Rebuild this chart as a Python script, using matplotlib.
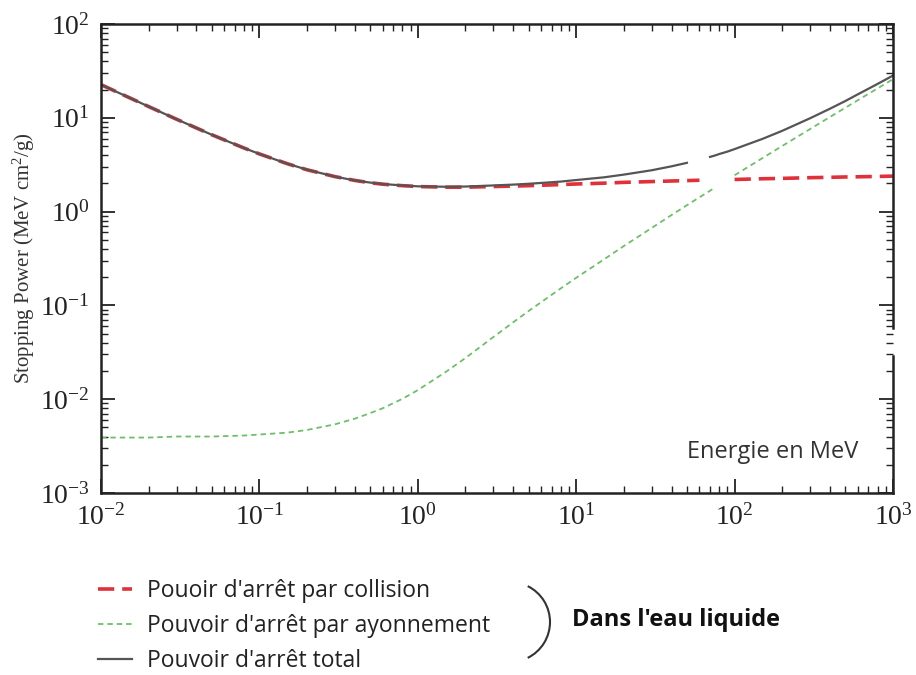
import matplotlib
matplotlib.use('Agg')
import matplotlib.pyplot as plt
from matplotlib.patches import Arc
import numpy as np

plt.rcParams['font.family'] = 'Liberation Serif'
plt.rcParams['mathtext.fontset'] = 'custom'
plt.rcParams['mathtext.rm'] = 'Liberation Serif'
plt.rcParams['mathtext.it'] = 'Liberation Serif:italic'
plt.rcParams['axes.unicode_minus'] = False

# electron stopping power in liquid water, MeV cm2/g
# nan = points erased in the original picture
energy = [0.01, 0.02, 0.03, 0.05, 0.08, 0.1, 0.15, 0.2, 0.3, 0.4, 0.5, 0.6, 0.8,
          1.0, 1.5, 2, 3, 4, 5, 6, 8, 10, 15, 20, 30, 40, 50, 60, 70, 75, 80,
          90, 100, 150, 200, 300, 400, 500, 600, 800, 1000]
collision = [22.56, 13.17, 9.65, 6.60, 4.76, 4.12, 3.24, 2.79, 2.36, 2.15, 2.03, 1.96, 1.89,
             1.85, 1.82, 1.82, 1.85, 1.87, 1.89, 1.91, 1.94, 1.97, 2.01, 2.05, 2.09, 2.12, 2.14,
             2.16, np.nan, np.nan, np.nan, np.nan, 2.20, 2.24, 2.26, 2.30, 2.32, 2.34, 2.35,
             2.37, 2.39]
radiative = [0.0039, 0.0039, 0.0040, 0.0040, 0.0041, 0.0042, 0.0044, 0.0047, 0.0054, 0.0062,
             0.0071, 0.0080, 0.0101, 0.0125, 0.0195, 0.0275, 0.046, 0.066, 0.087, 0.108, 0.152,
             0.197, 0.31, 0.43, 0.67, 0.92, 1.17, 1.42, 1.67, 1.80, np.nan, np.nan, 2.44, 3.72,
             5.01, 7.6, 10.2, 12.8, 15.4, 20.6, 25.8]
total = [22.56, 13.17, 9.65, 6.60, 4.76, 4.12, 3.24, 2.80, 2.36, 2.15, 2.04, 1.97, 1.90,
         1.86, 1.84, 1.85, 1.90, 1.94, 1.98, 2.02, 2.09, 2.17, 2.32, 2.48, 2.76, 3.04, 3.31,
         np.nan, 3.83, 3.96, 4.11, 4.36, 4.64, 5.96, 7.27, 9.90, 12.5, 15.1, 17.8, 23.0, 28.2]

fig = plt.figure(figsize=(9.16, 6.75), dpi=100)
ax = fig.add_axes([101 / 916, 1 - 493 / 675, 792 / 916, 469 / 675])

l_col, = ax.plot(energy, collision, color='#e0303a', lw=2.6, dashes=(4.5, 2.2),
                 label="Pouoir d'arrêt par collision")
l_rad, = ax.plot(energy, radiative, color='#6dbf6a', lw=1.3, dashes=(3, 2.2),
                 label="Pouvoir d'arrêt par ayonnement")
l_tot, = ax.plot(energy, total, color='#555555', lw=1.6, label="Pouvoir d'arrêt total")

ax.set_xscale('log')
ax.set_yscale('log')
ax.set_xlim(1e-2, 1e3)
ax.set_ylim(1e-3, 1e2)

ax.tick_params(which='both', direction='in', top=True, right=True, labelsize=20,
               colors='#222222')
ax.tick_params(which='major', length=10, width=1.3, pad=8)
ax.tick_params(which='minor', length=5, width=1.0)
for s in ax.spines.values():
    s.set_linewidth(1.8)
    s.set_color('#222222')
# the right frame is broken in the original picture
ax.spines['right'].set_bounds(1e-3, 2.9e-2)
ax.axvline(1e3, ymin=0.352, ymax=1.0, color='#222222', lw=1.8, clip_on=False)

ax.set_ylabel('Stopping Power (MeV cm$^{2}$/g)', fontsize=15, color='#333333')
ax.yaxis.set_label_coords(-0.081, 0.5)

ax.text(858 / 792 - 101 / 792, 0.087, 'Energie en MeV', transform=ax.transAxes,
        ha='right', va='center', fontsize=17, family='Open Sans', color='#333333')

fig.legend(handles=[l_col, l_rad, l_tot], loc='upper left',
           bbox_to_anchor=(98 / 916, 1 - 579 / 675), frameon=False,
           prop={'family': 'Open Sans', 'size': 16.5}, handlelength=1.5,
           handletextpad=0.65, labelspacing=0.48, borderpad=0, borderaxespad=0,
           labelcolor='#222222')

fig.patches.append(Arc((510 / 916, 1 - 622 / 675), 80 / 916, 80 / 675, theta1=-70, theta2=70,
                       transform=fig.transFigure, color='#333333', lw=1.5))
fig.text(572 / 916, 1 - 620 / 675, "Dans l'eau liquide", ha='left', va='center',
         fontsize=17, fontweight='bold', family='Open Sans', color='#111111')

fig.savefig('out.png', dpi=100, facecolor='white')
